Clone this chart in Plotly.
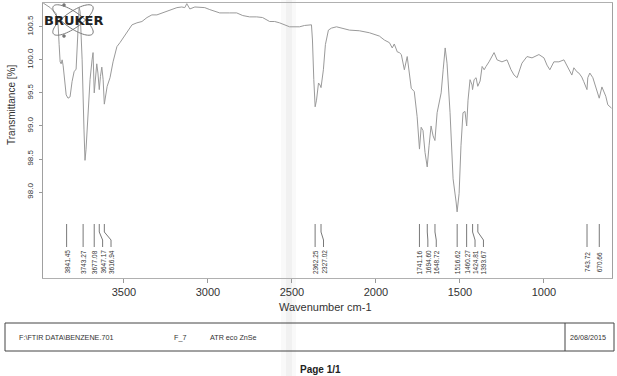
import numpy as np
import plotly.graph_objects as go

# ---------------- data ----------------
wavenumber = [3981, 3939, 3904, 3892, 3886, 3880, 3874, 3868, 3862, 3856,
              3844, 3833, 3821, 3809, 3797, 3785, 3779, 3773, 3767, 3761,
              3749, 3738, 3732, 3726, 3714, 3702, 3690, 3684, 3677, 3670,
              3662, 3655, 3647, 3640, 3632, 3624, 3617, 3600, 3583, 3565,
              3553, 3542, 3524, 3506, 3476, 3452, 3423, 3393, 3363, 3334,
              3304, 3274, 3245, 3215, 3185, 3156, 3138, 3126, 3108, 3078,
              3049, 3019, 2989, 2960, 2930, 2871, 2829, 2793, 2752, 2710,
              2675, 2633, 2603, 2574, 2544, 2514, 2455, 2425, 2384, 2378,
              2370, 2362, 2354, 2342, 2333, 2327, 2313, 2301, 2283, 2265,
              2235, 2200, 2158, 2099, 2039, 1980, 1950, 1920, 1903, 1891,
              1873, 1861, 1849, 1831, 1814, 1790, 1772, 1755, 1741, 1731,
              1720, 1708, 1695, 1684, 1672, 1660, 1649, 1636, 1612, 1600,
              1588, 1577, 1559, 1541, 1529, 1523, 1517, 1505, 1494, 1482,
              1470, 1460, 1452, 1440, 1428, 1425, 1416, 1404, 1394, 1380,
              1368, 1356, 1345, 1327, 1297, 1279, 1250, 1220, 1196, 1178,
              1160, 1131, 1101, 1071, 1030, 1000, 982, 965, 941, 911,
              881, 864, 852, 834, 822, 804, 792, 775, 763, 744,
              739, 727, 709, 691, 671, 655, 643, 632, 620, 608,
              598]
transmittance = [100.86, 100.79, 100.70, 100.53, 100.23, 99.97, 99.94, 100.0, 99.91, 99.77,
                 99.47, 99.42, 99.44, 99.67, 99.82, 99.86, 100.23, 100.68, 100.79, 100.73,
                 100.0, 98.94, 98.48, 98.64, 99.24, 99.70, 100.0, 100.11, 99.5, 99.75,
                 99.94, 99.8, 99.55, 99.75, 99.89, 99.7, 99.33, 99.6, 99.73, 99.97,
                 100.08, 100.20, 100.26, 100.33, 100.45, 100.53, 100.56, 100.58, 100.64, 100.68,
                 100.68, 100.71, 100.73, 100.76, 100.79, 100.80, 100.79, 100.85, 100.77, 100.80,
                 100.80, 100.79, 100.76, 100.73, 100.71, 100.71, 100.71, 100.67, 100.65, 100.65,
                 100.64, 100.58, 100.58, 100.56, 100.53, 100.50, 100.50, 100.52, 100.53, 100.30,
                 99.7, 99.29, 99.39, 99.65, 99.62, 99.58, 99.85, 100.23, 100.45, 100.48,
                 100.50, 100.48, 100.45, 100.44, 100.41, 100.36, 100.30, 100.26, 100.18, 100.24,
                 100.12, 100.11, 100.08, 99.85, 100.05, 99.57, 99.52, 99.14, 98.65, 98.98,
                 98.93, 98.6, 98.38, 98.7, 99.0, 98.85, 98.78, 99.2, 99.5, 99.85,
                 100.18, 99.95, 99.2, 98.2, 97.89, 97.85, 97.7, 97.98, 98.7, 99.2,
                 99.22, 99.0, 99.39, 99.7, 99.62, 99.55, 99.7, 99.73, 99.6, 99.68,
                 99.9, 99.85, 99.9, 99.97, 100.11, 100.0, 99.97, 100.0, 99.85, 99.77,
                 99.73, 99.95, 100.05, 100.03, 100.08, 100.03, 99.92, 99.85, 99.97, 99.97,
                 100.0, 99.91, 99.85, 99.77, 99.88, 99.82, 99.80, 99.74, 99.67, 99.55,
                 99.73, 99.80, 99.73, 99.58, 99.42, 99.59, 99.52, 99.45, 99.32, 99.29,
                 99.27]

peaks = [3841.45, 3743.27, 3677.08, 3647.17, 3616.94, 2362.25, 2327.02,
         1741.16, 1694.60, 1648.72, 1516.62, 1460.27, 1424.81, 1393.67,
         743.72, 670.66]

x_ticks = [3500, 3000, 2500, 2000, 1500, 1000]
y_ticks = [98.0, 98.5, 99.0, 99.5, 100.0, 100.5]

x_title = "Wavenumber cm-1"
y_title = "Transmittance [%]"
footer_file = "F:\\FTIR DATA\\BENZENE.701"
footer_id = "F_7"
footer_acc = "ATR eco ZnSe"
footer_date = "26/08/2015"
page_text = "Page 1/1"

# ---------------- layout geometry (pixels) ----------------
W, H = 617, 376
L, R, T, B = 43, 612, 3, 278


def px(x):
    return (x - L) / (R - L)


def py(y):
    return (B - y) / (B - T)


FONT = "Liberation Sans, Arial, sans-serif"
TXT = "#333333"

fig = go.Figure()
fig.add_trace(go.Scatter(x=wavenumber, y=transmittance, mode="lines",
                         line=dict(color="#9a9a9a", width=1),
                         hoverinfo="skip", showlegend=False))

shapes = []
annotations = []

# scan fold shading
shapes.append(dict(type="rect", xref="paper", yref="paper", x0=px(281), x1=px(296),
                   y0=py(376), y1=py(0), fillcolor="rgba(0,0,0,0.025)", line=dict(width=0),
                   layer="below"))
shapes.append(dict(type="rect", xref="paper", yref="paper", x0=px(286), x1=px(292),
                   y0=py(376), y1=py(0), fillcolor="rgba(0,0,0,0.03)", line=dict(width=0),
                   layer="below"))

# peak labels with simple anti-overlap placement
min_sep = 50.0
label_pos = []
for p in peaks:
    if label_pos and label_pos[-1] - p < min_sep:
        label_pos.append(label_pos[-1] - min_sep)
    else:
        label_pos.append(p)

for p, lp in zip(peaks, label_pos):
    path = "M {a},{y1} L {a},{y2} L {b},{y3} L {b},{y4}".format(
        a=p, b=lp, y1=py(224), y2=py(232), y3=py(240), y4=py(247))
    shapes.append(dict(type="path", xref="x", yref="paper", path=path,
                       line=dict(color="#555555", width=0.8)))
    annotations.append(dict(x=lp, y=py(262), xref="x", yref="paper", text="%.2f" % p,
                            textangle=-90, showarrow=False, xanchor="center", yanchor="middle",
                            font=dict(family=FONT, size=6.5, color=TXT)))

# axis titles
annotations.append(dict(x=px(325), y=py(307), xref="paper", yref="paper", text=x_title,
                        showarrow=False, xanchor="center", yanchor="middle",
                        font=dict(family=FONT, size=11, color=TXT)))
annotations.append(dict(x=px(12), y=py(105), xref="paper", yref="paper", text=y_title,
                        textangle=-90, showarrow=False, xanchor="center", yanchor="middle",
                        font=dict(family=FONT, size=10, color=TXT)))

# Bruker logo
for ang in (35, -35):
    t = np.linspace(0, 2 * np.pi, 60)
    a, b = 24, 8
    th = np.radians(ang)
    ex = 73 + a * np.cos(t) * np.cos(th) - b * np.sin(t) * np.sin(th)
    ey = 20 + a * np.cos(t) * np.sin(th) + b * np.sin(t) * np.cos(th)
    d = "M " + " L ".join("{:.4f},{:.4f}".format(px(xx), py(yy)) for xx, yy in zip(ex, ey)) + " Z"
    shapes.append(dict(type="path", xref="paper", yref="paper", path=d,
                       line=dict(color="#7a7a7a", width=1)))
for cx, cy in ((64, 5), (64, 36)):
    shapes.append(dict(type="circle", xref="paper", yref="paper",
                       x0=px(cx - 1.5), x1=px(cx + 1.5), y0=py(cy + 1.5), y1=py(cy - 1.5),
                       fillcolor="#777777", line=dict(color="#777777", width=0.5)))
annotations.append(dict(x=px(73), y=py(21), xref="paper", yref="paper", text="<b>BRUKER</b>",
                        showarrow=False, xanchor="center", yanchor="middle",
                        font=dict(family="DejaVu Sans, sans-serif", size=13, color="#222222")))

# footer box
shapes.append(dict(type="rect", xref="paper", yref="paper", x0=px(5), x1=px(614),
                   y0=py(351), y1=py(323), line=dict(color="#444444", width=1)))
shapes.append(dict(type="line", xref="paper", yref="paper", x0=px(565), x1=px(565),
                   y0=py(351), y1=py(323), line=dict(color="#444444", width=1)))
for xx, txt in ((17, footer_file), (172, footer_id), (208, footer_acc), (568, footer_date)):
    annotations.append(dict(x=px(xx), y=py(337), xref="paper", yref="paper", text=txt,
                            showarrow=False, xanchor="left", yanchor="middle",
                            font=dict(family=FONT, size=7.2, color=TXT)))
annotations.append(dict(x=px(320), y=py(369), xref="paper", yref="paper",
                        text="<b>" + page_text + "</b>", showarrow=False,
                        xanchor="center", yanchor="middle",
                        font=dict(family=FONT, size=10, color="#222222")))

fig.update_layout(
    width=W, height=H, autosize=False,
    margin=dict(l=L, r=W - R, t=T, b=H - B, pad=0),
    paper_bgcolor="white", plot_bgcolor="white",
    showlegend=False,
    shapes=shapes, annotations=annotations,
    xaxis=dict(range=[3982, 595], tickvals=x_ticks, ticks="outside", ticklen=4,
               tickcolor="#999999", showline=True, linecolor="#b0b0b0", linewidth=1,
               mirror=True, showgrid=False, zeroline=False,
               tickfont=dict(family=FONT, size=11, color=TXT)),
    yaxis=dict(range=[96.70, 100.86], tickvals=y_ticks, ticktext=["%.1f" % v for v in y_ticks],
               ticks="outside", ticklen=3, tickcolor="#999999", tickangle=-90,
               showline=True, linecolor="#a0a0a0", linewidth=1, mirror=True,
               showgrid=False, zeroline=False, ticklabelstandoff=3,
               tickfont=dict(family=FONT, size=8, color=TXT)),
)

fig.write_html("out.html")
